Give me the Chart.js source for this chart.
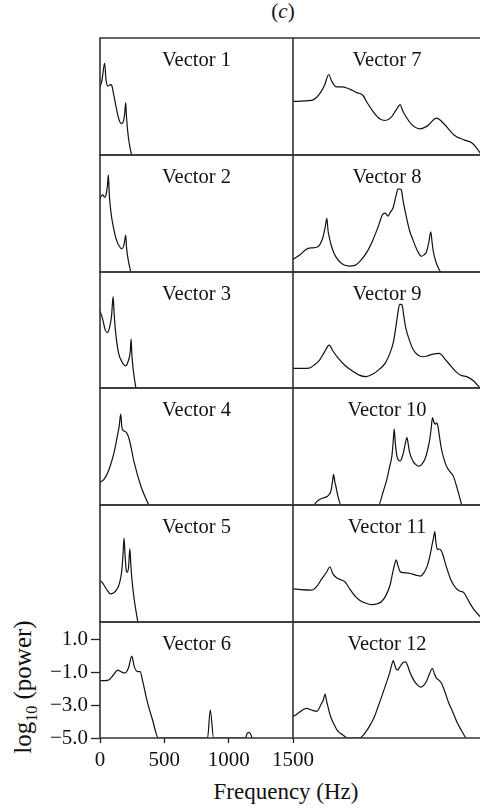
<!DOCTYPE html>
<html>
<head>
<meta charset="utf-8">
<script src="https://cdn.jsdelivr.net/npm/chart.js@4.4.0/dist/chart.umd.min.js"></script>
<style>
  html, body { margin:0; padding:0; background:#fff; overflow:hidden; }
  #page { position:relative; width:480px; height:809px; overflow:hidden; font-family:"Liberation Serif", "DejaVu Serif", serif; color:#111; }
  canvas { position:absolute; }
  .txt { position:absolute; white-space:nowrap; line-height:1; }
  #tag { left:283px; top:1px; font-size:21px; transform:translateX(-50%); }
  #xlab { left:286px; top:780px; font-size:23px; transform:translateX(-50%); }
  #ylab { left:25px; top:687px; font-size:25px; transform:translate(-50%,-50%) rotate(-90deg); }
  #ylab sub { font-size:16px; }
</style>
</head>
<body>
<div id="page">
  <div class="txt" id="tag">(<i>c</i>)</div>
  <div class="txt" id="xlab">Frequency (Hz)</div>
  <div class="txt" id="ylab">log<sub>10</sub> (power)</div>
</div>
<script>
const panelNames = ["Vector 1","Vector 2","Vector 3","Vector 4","Vector 5","Vector 6",
                    "Vector 7","Vector 8","Vector 9","Vector 10","Vector 11","Vector 12"];
const freqTicks = [0, 500, 1000, 1500];
const powerTicks = [-5, -3, -1, 1];

// [frequency Hz, log10 power]
const vector1 = [[0,-0.9],[15,-0.5],[36,0.52],[46,-0.4],[60,-0.85],[80,-0.76],[92,-0.82],[100,-1.1],[120,-1.9],[145,-2.8],[165,-3.1],[178,-3.05],[192,-2.5],[200,-1.85],[205,-2.6],[220,-3.9],[245,-5]];
const vector2 = [[0,-0.56],[12,-0.4],[22,-0.35],[35,-0.5],[45,-0.4],[58,0.2],[65,0.86],[72,-0.3],[85,-1.4],[104,-2.3],[125,-3.0],[150,-3.45],[170,-3.6],[188,-3.3],[200,-2.78],[206,-3.5],[220,-4.3],[239,-5]];
const vector3 = [[0,-0.31],[20,-0.8],[40,-1.45],[57,-1.63],[75,-1.3],[90,-0.6],[102,0.56],[110,-0.5],[120,-1.5],[143,-2.84],[170,-3.4],[201,-3.65],[222,-3.3],[235,-2.8],[242,-2.03],[248,-3.0],[260,-4.0],[279,-5]];
const vector4 = [[0,-3.63],[31,-3.46],[70,-2.86],[109,-1.85],[135,-0.84],[150,-0.2],[161,0.47],[170,-0.3],[180,-0.5],[206,-0.64],[227,-1.04],[266,-2.45],[318,-3.87],[378,-5]];
const vector5 = [[0,-2.49],[25,-2.7],[52,-3.04],[80,-3.3],[104,-3.25],[130,-3.05],[150,-2.7],[169,-1.93],[180,-0.8],[187,0.05],[195,-1.0],[203,-1.83],[212,-2.0],[222,-1.7],[232,-0.58],[240,-1.6],[247,-2.33],[265,-3.6],[294,-5]];
const vector6 = [[0,-1.52],[65,-1.48],[104,-1.17],[138,-0.87],[164,-0.97],[195,-1.05],[221,-0.75],[247,-0.03],[267,-0.68],[293,-0.97],[312,-0.97],[330,-1.48],[364,-2.68],[408,-3.89],[454,-5],[836,-5],[857,-3.29],[883,-5],[1130,-5],[1145,-4.7],[1160,-4.66],[1175,-4.85],[1182,-5]];
const vector7 = [[0,-1.77],[143,-1.71],[180,-1.55],[208,-1.3],[245,-0.8],[278,-0.15],[300,-0.55],[339,-0.9],[380,-0.9],[417,-0.96],[460,-1.1],[495,-1.24],[542,-1.4],[580,-1.9],[625,-2.41],[670,-2.8],[716,-2.92],[760,-2.75],[800,-2.3],[833,-1.97],[850,-2.3],[872,-2.62],[917,-3.12],[984,-3.42],[1042,-3.26],[1115,-2.78],[1172,-3.12],[1250,-3.79],[1328,-4.09],[1393,-4.29],[1432,-4.64],[1460,-4.95]];
const vector8 = [[0,-4.25],[60,-3.93],[100,-3.65],[138,-3.55],[190,-3.49],[229,-3.0],[250,-2.3],[263,-1.77],[272,-2.5],[281,-2.88],[305,-3.6],[333,-4.09],[380,-4.5],[437,-4.64],[480,-4.6],[516,-4.39],[570,-3.85],[620,-3.08],[660,-2.3],[698,-1.51],[717,-1.45],[737,-1.63],[760,-1.35],[776,-1.16],[800,-0.4],[815,-0.01],[830,0.0],[841,-0.05],[855,-0.7],[880,-1.67],[905,-2.5],[932,-3.08],[965,-3.7],[997,-4.05],[1020,-3.95],[1036,-3.79],[1055,-3.2],[1070,-2.58],[1080,-3.2],[1088,-3.69],[1110,-4.4],[1141,-4.94],[1146,-5]];
const vector9 = [[0,-3.81],[125,-3.79],[165,-3.6],[203,-3.34],[245,-2.8],[281,-2.39],[310,-2.75],[346,-3.14],[400,-3.6],[450,-3.91],[510,-4.2],[568,-4.31],[620,-4.15],[672,-3.85],[715,-3.5],[750,-2.94],[780,-2.2],[802,-1.12],[815,-0.4],[828,0.09],[840,0.08],[849,-0.01],[860,-0.6],[875,-1.32],[900,-2.0],[932,-2.64],[970,-3.0],[1010,-3.1],[1050,-3.03],[1088,-2.94],[1136,-2.9],[1180,-3.24],[1225,-3.65],[1271,-4.05],[1310,-4.25],[1349,-4.31],[1401,-4.56],[1430,-4.8],[1453,-5]];
const vector10 = [[164,-5],[185,-4.8],[203,-4.68],[240,-4.56],[268,-4.47],[294,-4.17],[305,-3.7],[315,-3.16],[325,-3.6],[333,-3.87],[350,-4.5],[372,-5],[664,-5],[700,-4.2],[729,-3.46],[750,-2.7],[768,-2.05],[778,-1.2],[786,-0.43],[795,-1.3],[807,-2.05],[820,-2.3],[833,-2.35],[846,-2.15],[859,-1.8],[872,-1.3],[885,-0.94],[895,-1.35],[906,-1.85],[935,-2.4],[960,-2.6],[976,-2.66],[1000,-2.55],[1029,-2.15],[1045,-1.7],[1062,-1.04],[1073,-0.4],[1083,0.27],[1092,0.05],[1100,-0.1],[1107,-0.13],[1115,-0.05],[1125,-0.23],[1138,-0.9],[1151,-1.55],[1175,-2.3],[1198,-2.76],[1220,-3.0],[1245,-3.26],[1275,-4.0],[1310,-5]];
const vector11 = [[0,-3.0],[60,-3.05],[143,-3.08],[185,-2.85],[221,-2.43],[260,-2.0],[286,-1.67],[310,-2.1],[339,-2.33],[370,-2.45],[404,-2.58],[440,-3.0],[482,-3.44],[520,-3.7],[560,-3.85],[612,-3.95],[655,-3.9],[690,-3.75],[725,-3.35],[755,-2.74],[775,-2.0],[789,-1.53],[802,-1.26],[815,-1.6],[833,-1.97],[860,-2.03],[898,-2.05],[937,-2.13],[965,-2.2],[990,-2.23],[1015,-2.05],[1042,-1.63],[1065,-0.95],[1081,-0.31],[1092,0.1],[1101,0.45],[1110,-0.2],[1120,-0.62],[1135,-0.6],[1153,-0.72],[1170,-1.1],[1185,-1.53],[1205,-2.0],[1224,-2.43],[1250,-2.8],[1276,-3.04],[1300,-3.15],[1328,-3.24],[1355,-3.6],[1380,-3.95],[1410,-4.3],[1445,-4.6],[1460,-4.75]];
const vector12 = [[0,-3.69],[30,-3.55],[60,-3.38],[85,-3.25],[107,-3.2],[130,-3.26],[151,-3.32],[185,-3.38],[200,-3.25],[216,-2.98],[235,-2.7],[250,-2.33],[258,-2.65],[268,-2.98],[290,-3.65],[320,-4.19],[350,-4.6],[385,-4.8],[424,-5],[516,-5],[568,-4.6],[600,-4.2],[633,-3.69],[665,-3.0],[698,-2.27],[725,-1.65],[750,-1.06],[765,-0.6],[779,-0.29],[790,-0.55],[800,-0.8],[815,-0.86],[828,-0.7],[841,-0.55],[858,-0.4],[875,-0.37],[890,-0.6],[906,-0.96],[925,-1.3],[945,-1.57],[970,-1.8],[992,-1.91],[1015,-1.8],[1036,-1.57],[1060,-1.1],[1083,-0.76],[1098,-1.1],[1114,-1.36],[1135,-1.5],[1153,-1.67],[1180,-2.2],[1205,-2.78],[1240,-3.4],[1271,-3.99],[1305,-4.5],[1341,-5]];

const vectors = [vector1,vector2,vector3,vector4,vector5,vector6,vector7,vector8,vector9,vector10,vector11,vector12];

const POWER_MIN = -5, POWER_MAX = 2.05;
const FREQ_MAX = [1500, 1460];          // left column, right column (right is cut a bit)
const colX = [100, 293, 481];
const rowY = [38, 155, 272, 388, 505, 622, 738];
const PAD = 4;
const AXIS_TOP_PAD = 18;                // room Chart.js wants above the y axis labels
const FONT = "Liberation Serif";

const page = document.getElementById("page");

const frame = {
    id: "frame",
    afterDraw(chart, args, opts) {
        const {ctx, chartArea: a} = chart;
        ctx.save();
        ctx.strokeStyle = "#333";
        ctx.lineWidth = 1.6;
        ctx.beginPath();
        ctx.moveTo(a.right, a.top); ctx.lineTo(a.left, a.top); ctx.lineTo(a.left, a.bottom); ctx.lineTo(a.right, a.bottom);
        ctx.stroke();
        ctx.fillStyle = "#111";
        ctx.font = "20.5px '" + FONT + "'";
        ctx.textAlign = "center";
        ctx.textBaseline = "alphabetic";
        ctx.fillText(opts.label, (a.left + a.right) / 2, a.top + 28);
        ctx.restore();
    }
};

function makePanel(i){
    const col = i < 6 ? 0 : 1, row = i % 6;
    const L = colX[col], R = colX[col+1], T = rowY[row], B = rowY[row+1];
    const withAxes = col === 0 && row === 5;
    const cv = document.createElement("canvas");
    let cl, ct, cw, chh, pad;
    if(withAxes){
        cl = 0; ct = T - AXIS_TOP_PAD; cw = R + 47; chh = 809 - ct;
        pad = {left:0, top:AXIS_TOP_PAD, right:cw - R, bottom:0};
    }else{
        cl = L - PAD; ct = T - PAD; cw = R - L + 2*PAD; chh = B - T + 2*PAD;
        pad = PAD;
    }
    cv.width = cw; cv.height = chh;
    cv.style.left = cl + "px"; cv.style.top = ct + "px";
    page.appendChild(cv);

    const tickFont = {family:FONT, size:21};
    const scales = withAxes ? {
        x: {
            type:"linear", min:0, max:FREQ_MAX[col],
            afterBuildTicks: s => { s.ticks = freqTicks.map(v => ({value:v})); },
            afterFit: s => { s.height = 809 - B; },
            border:{display:false},
            grid:{drawOnChartArea:false, drawTicks:true, tickLength:5, tickColor:"#222", tickWidth:1.3},
            ticks:{font:tickFont, color:"#111", padding:5, maxRotation:0, callback: v => String(v)}
        },
        y: {
            type:"linear", min:POWER_MIN, max:POWER_MAX,
            afterBuildTicks: s => { s.ticks = powerTicks.map(v => ({value:v})); },
            afterFit: s => { s.width = L; },
            border:{display:false},
            grid:{drawOnChartArea:false, drawTicks:true, tickLength:9, tickColor:"#222", tickWidth:1.3},
            ticks:{font:tickFont, color:"#111", padding:3, callback: v => (v < 0 ? "\u2212" : "") + Math.abs(v).toFixed(1)}
        }
    } : {
        x: {type:"linear", display:false, min:0, max:FREQ_MAX[col]},
        y: {type:"linear", display:false, min:POWER_MIN, max:POWER_MAX}
    };

    new Chart(cv, {
        type:"line",
        data:{datasets:[{
            data: vectors[i].map(([f,p]) => ({x:f, y:p})),
            borderColor:"#111", borderWidth:1.2, pointRadius:0,
            cubicInterpolationMode:"monotone", fill:false
        }]},
        options:{
            responsive:false, animation:false, events:[],
            layout:{padding:pad},
            scales,
            plugins:{legend:{display:false}, tooltip:{enabled:false}, frame:{label:panelNames[i]}}
        },
        plugins:[frame]
    });
}

for(let i = 0; i < 12; i++) makePanel(i);
</script>
</body>
</html>
